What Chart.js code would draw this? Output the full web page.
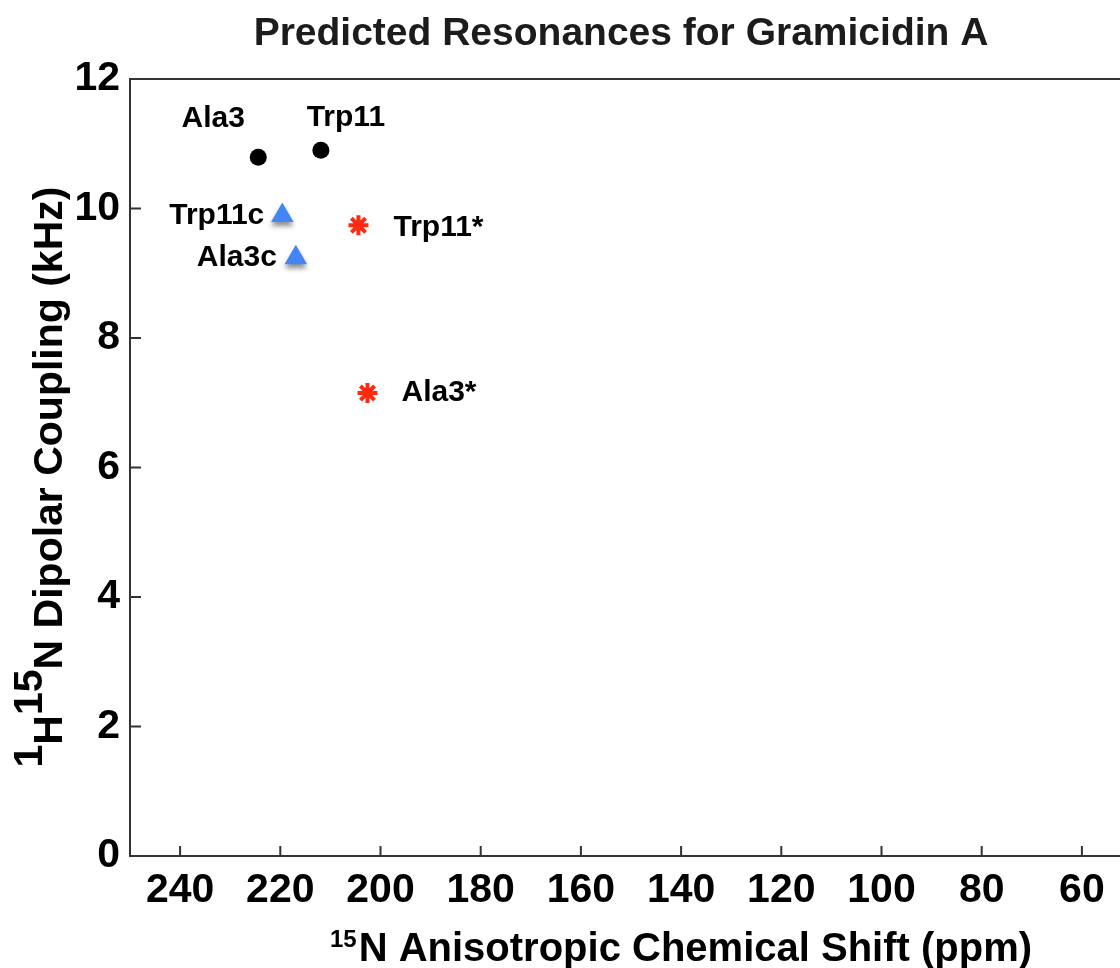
<!DOCTYPE html>
<html>
<head>
<meta charset="utf-8">
<title>Predicted Resonances for Gramicidin A</title>
<script src="https://cdn.jsdelivr.net/npm/chart.js@4.4.1/dist/chart.umd.min.js"></script>
<style>
  html, body { margin: 0; padding: 0; background: #fff; overflow: hidden; }
  #wrap { width: 1160px; height: 968px; }
</style>
</head>
<body>
<div id="wrap"><canvas id="myChart" width="1160" height="968"></canvas></div>
<script>
"use strict";

// resonance positions: 15N shift (ppm) and 1H-15N coupling (kHz)
let observedNames = ["Ala3", "Trp11"];
let observedShift = [224.4, 211.9];
let observedCoupling = [10.79, 10.9];

let correctedNames = ["Trp11c", "Ala3c"];
let correctedShift = [219.6, 216.9];
let correctedCoupling = [9.89, 9.24];

let starNames = ["Trp11*", "Ala3*"];
let starShift = [204.4, 202.6];
let starCoupling = [9.74, 7.15];

let xTicks = [240, 220, 200, 180, 160, 140, 120, 100, 80, 60];
let yTicks = [0, 2, 4, 6, 8, 10, 12];

const FONT = "'Liberation Sans', Arial, Helvetica, sans-serif";
const AXIS_COLOR = "#333";

// where each point's name sits relative to the marker
let labelPlace = {
    "Ala3": { dx: -45, dy: -30, align: "center" },
    "Trp11": { dx: 25, dy: -24, align: "center" },
    "Trp11c": { dx: -18, dy: 8, align: "right" },
    "Ala3c": { dx: -19, dy: 8, align: "right" },
    "Trp11*": { dx: 35, dy: 11, align: "left" },
    "Ala3*": { dx: 34, dy: 8, align: "left" }
};

function toPoints(xs, ys) {
    return xs.map((x, i) => ({ x: x, y: ys[i] }));
}

// title, axis titles (with superscripts), top frame line and inward ticks
const decorations = {
    id: "decorations",
    beforeDatasetsDraw(chart) {
        const ctx = chart.ctx;
        const area = chart.chartArea;
        const xs = chart.scales.x;
        const ys = chart.scales.y;
        ctx.save();
        ctx.strokeStyle = AXIS_COLOR;
        ctx.lineWidth = 2;
        ctx.beginPath();
        ctx.moveTo(area.left - 1, area.top);
        ctx.lineTo(chart.width, area.top);
        xTicks.forEach(v => {
            let px = xs.getPixelForValue(v);
            ctx.moveTo(px, area.bottom);
            ctx.lineTo(px, area.bottom - 10);
        });
        yTicks.forEach(v => {
            let py = ys.getPixelForValue(v);
            ctx.moveTo(area.left, py);
            ctx.lineTo(area.left + 11, py);
        });
        ctx.stroke();
        ctx.restore();
    },
    afterDraw(chart) {
        const ctx = chart.ctx;
        ctx.save();
        ctx.fillStyle = "#1c1c1c";
        ctx.font = "bold 39px " + FONT;
        ctx.textAlign = "center";
        ctx.textBaseline = "alphabetic";
        ctx.fillText("Predicted Resonances for Gramicidin A", 621, 45);

        // x axis title: superscript 15 then the rest
        ctx.fillStyle = "#000";
        ctx.textAlign = "left";
        let sup = "15", main = "N Anisotropic Chemical Shift (ppm)";
        ctx.font = "bold 24px " + FONT;
        let supW = ctx.measureText(sup).width;
        ctx.font = "bold 40px " + FONT;
        let mainW = ctx.measureText(main).width;
        let x0 = 681 - (supW + 2 + mainW) / 2;
        ctx.font = "bold 24px " + FONT;
        ctx.fillText(sup, x0, 947);
        ctx.font = "bold 40px " + FONT;
        ctx.fillText(main, x0 + supW + 2, 961);

        // y axis title, rotated, raised digits
        let parts = [
            { t: "1", raise: 20 },
            { t: "H", raise: 0 },
            { t: "15", raise: 20 },
            { t: "N Dipolar Coupling (kHz)", raise: 0 }
        ];
        ctx.font = "bold 41px " + FONT;
        let total = parts.reduce((s, p) => s + ctx.measureText(p.t).width, 0);
        ctx.translate(62, 477);
        ctx.rotate(-Math.PI / 2);
        let cx = -total / 2;
        parts.forEach(p => {
            ctx.fillText(p.t, cx, -p.raise);
            cx += ctx.measureText(p.t).width;
        });
        ctx.restore();
    }
};

// names next to the markers
const pointNames = {
    id: "pointNames",
    afterDatasetsDraw(chart) {
        const ctx = chart.ctx;
        ctx.save();
        ctx.fillStyle = "#000";
        ctx.font = "bold 30px " + FONT;
        ctx.textBaseline = "alphabetic";
        chart.data.datasets.forEach((ds, i) => {
            let meta = chart.getDatasetMeta(i);
            meta.data.forEach((el, j) => {
                let name = ds.names[j];
                let place = labelPlace[name];
                ctx.textAlign = place.align;
                ctx.fillText(name, el.x + place.dx, el.y + place.dy);
            });
        });
        ctx.restore();
    }
};

// soft drop shadow under the triangles
const triangleShadow = {
    id: "triangleShadow",
    beforeDatasetDraw(chart, args) {
        if (args.index !== 1) return;
        const ctx = chart.ctx;
        ctx.save();
        ctx.shadowColor = "rgba(0,0,0,0.45)";
        ctx.shadowBlur = 5;
        ctx.shadowOffsetY = 4;
    },
    afterDatasetDraw(chart, args) {
        if (args.index !== 1) return;
        chart.ctx.restore();
    }
};

const ctx = document.getElementById("myChart");

new Chart(ctx, {
    type: "scatter",
    data: {
        datasets: [{
            label: "observed",
            names: observedNames,
            data: toPoints(observedShift, observedCoupling),
            pointStyle: "circle",
            pointRadius: 8.5,
            backgroundColor: "#000",
            borderWidth: 0
        }, {
            label: "corrected",
            names: correctedNames,
            data: toPoints(correctedShift, correctedCoupling),
            pointStyle: "triangle",
            pointRadius: 13,
            backgroundColor: "#4385f5",
            borderWidth: 0
        }, {
            label: "predicted",
            names: starNames,
            data: toPoints(starShift, starCoupling),
            pointStyle: "star",
            pointRadius: 10,
            borderColor: "#ff2a12",
            backgroundColor: "#ff2a12",
            borderWidth: 4
        }]
    },
    options: {
        responsive: false,
        animation: false,
        events: [],
        layout: { padding: { top: 79, right: 28, left: 0, bottom: 0 } },
        plugins: {
            legend: { display: false },
            tooltip: { enabled: false },
            title: { display: false }
        },
        scales: {
            x: {
                type: "linear",
                reverse: true,
                min: 50,
                max: 250,
                afterBuildTicks: scale => { scale.ticks = xTicks.map(v => ({ value: v })); },
                afterFit: scale => { scale.height = 112; },
                grid: { display: false, drawTicks: false },
                border: { display: true, color: AXIS_COLOR, width: 2 },
                ticks: {
                    color: "#000",
                    padding: 10,
                    maxRotation: 0,
                    autoSkip: false,
                    font: { family: FONT, size: 41, weight: "bold" },
                    callback: v => String(v)
                }
            },
            y: {
                type: "linear",
                min: 0,
                max: 12,
                afterBuildTicks: scale => { scale.ticks = yTicks.map(v => ({ value: v })); },
                afterFit: scale => { scale.width = 130; },
                grid: { display: false, drawTicks: false },
                border: { display: true, color: AXIS_COLOR, width: 2 },
                ticks: {
                    color: "#000",
                    padding: 10,
                    autoSkip: false,
                    font: { family: FONT, size: 41, weight: "bold" },
                    callback: v => String(v)
                }
            }
        }
    },
    plugins: [decorations, pointNames, triangleShadow]
});
</script>
</body>
</html>
